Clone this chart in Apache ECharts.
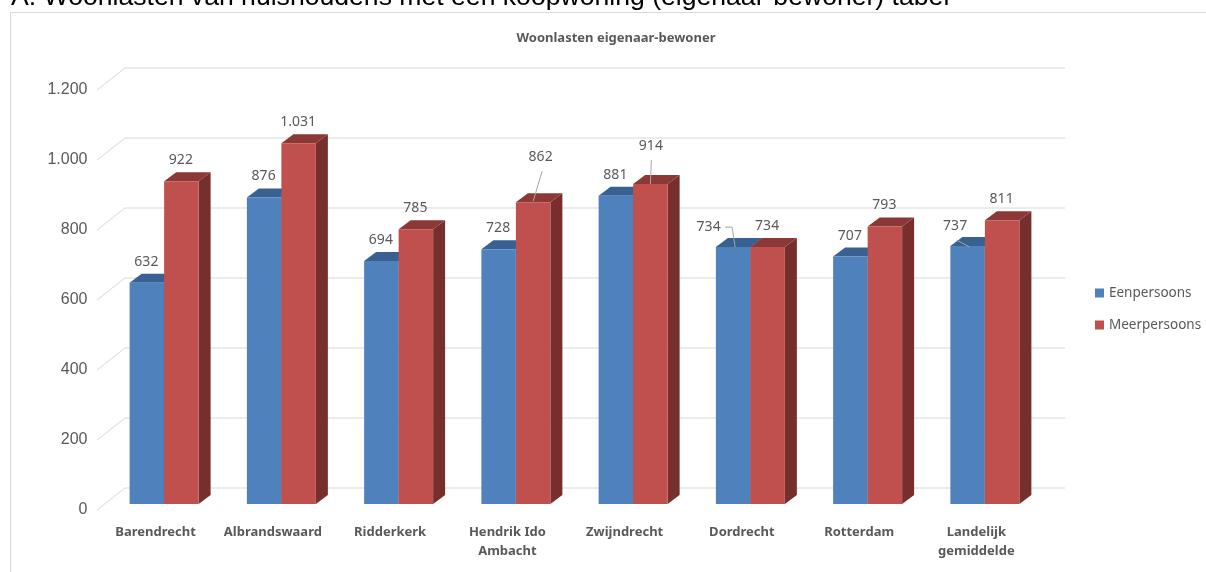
<!DOCTYPE html>
<html>
<head>
<meta charset="utf-8">
<title>Woonlasten eigenaar-bewoner</title>
<script src="https://cdn.jsdelivr.net/npm/echarts@6/dist/echarts.min.js"></script>
<style>
  html, body { margin: 0; padding: 0; background: #fff; }
  #chart { width: 1206px; height: 572px; }
</style>
</head>
<body>
<div id="chart"></div>
<script>
var categories = ["Barendrecht", "Albrandswaard", "Ridderkerk", "Hendrik Ido\nAmbacht", "Zwijndrecht", "Dordrecht", "Rotterdam", "Landelijk\ngemiddelde"];
var eenpersoons = [632, 876, 694, 728, 881, 734, 707, 737];
var meerpersoons = [922, 1031, 785, 862, 914, 734, 793, 811];
var yTicks = [0, 200, 400, 600, 800, 1000, 1200];

// 3d look: the bars stand halfway the floor, walls are pushed back
var FLOOR_X = 28, FLOOR_Y = 22, WALL_EXTRA = 2;
var BAR_SHIFT_X = 8.5, BAR_SHIFT_Y = 6;
var BAR_W = 34.5, DEPTH_X = 12, DEPTH_Y = 9;

// labels that excel moved away from the bar, with their leader line
var moved = {
  "1-3": { dx: 8, dy: -45, leader: [[9, -31], [0, -1]] },
  "1-4": { dx: 1, dy: -38, leader: [[1, -24], [0, 0]] },
  "0-5": { dx: -24, dy: -20, leader: [[-8, -20], [-1, -20], [2, 0]] },
  "0-7": { dx: -12, dy: -20, leader: [[-11, -6], [2, 1]] }
};

function fmt(v) {
  return String(v).replace(/\B(?=(\d{3})+$)/g, ".");
}

function poly(points, color) {
  return { type: "polygon", shape: { points: points }, style: { fill: color } };
}

function barRenderer(seriesIndex, front, top, side) {
  return function (params, api) {
    var idx = api.value(0);
    var val = api.value(1);
    var base = api.coord([idx, 0]);
    var head = api.coord([idx, val]);
    var x0 = base[0] + BAR_SHIFT_X + (seriesIndex === 0 ? -BAR_W : 0);
    var x1 = x0 + BAR_W;
    var y0 = base[1] - BAR_SHIFT_Y;
    var y1 = head[1] - BAR_SHIFT_Y;
    var cx = (x0 + x1) / 2;

    var m = moved[seriesIndex + "-" + idx] || { dx: 0, dy: -21 };
    var children = [
      poly([[x1, y0], [x1 + DEPTH_X, y0 - DEPTH_Y], [x1 + DEPTH_X, y1 - DEPTH_Y], [x1, y1]], side),
      poly([[x0, y1], [x0 + DEPTH_X, y1 - DEPTH_Y], [x1 + DEPTH_X, y1 - DEPTH_Y], [x1, y1]], top),
      poly([[x0, y0], [x1, y0], [x1, y1], [x0, y1]], front)
    ];
    if (m.leader) {
      children.push({
        type: "polyline",
        shape: { points: m.leader.map(function (p) { return [cx + p[0], y1 + p[1]]; }) },
        style: { fill: null, stroke: "#a6a6a6", lineWidth: 1 }
      });
    }
    children.push({
      type: "text",
      style: {
        text: fmt(val),
        x: cx + m.dx - 0.5,
        y: y1 + m.dy,
        align: "center",
        verticalAlign: "middle",
        fill: "#595959",
        font: '14px "Noto Sans"'
      }
    });
    return { type: "group", children: children };
  };
}

function gridRenderer(params, api) {
  var p = api.coord([0, api.value(1)]);
  var left = params.coordSys.x;
  var right = left + params.coordSys.width;
  return {
    type: "polyline",
    shape: { points: [[left, p[1]], [left + FLOOR_X, p[1] - FLOOR_Y], [right + FLOOR_X + WALL_EXTRA, p[1] - FLOOR_Y]] },
    style: { fill: null, stroke: "#d9d9d9", lineWidth: 1 }
  };
}

function pairs(values) {
  return values.map(function (v, i) { return [i, v]; });
}

var chart = echarts.init(document.getElementById("chart"));

var option = {
  backgroundColor: "#fff",
  animation: false,
  title: {
    text: "Woonlasten eigenaar-bewoner",
    left: 616,
    top: 32,
    padding: 0,
    textAlign: "center",
    textStyle: { fontFamily: "Noto Sans", fontSize: 13, fontWeight: "bold", color: "#595959" }
  },
  legend: {
    data: ["Eenpersoons", "Meerpersoons"],
    orient: "vertical",
    left: 1095,
    top: 286,
    padding: 0,
    icon: "rect",
    itemWidth: 9,
    itemHeight: 9,
    itemGap: 18,
    textStyle: { fontFamily: "Noto Sans", fontSize: 13.5, color: "#595959" }
  },
  grid: { left: 97, top: 90, width: 938, height: 420 },
  xAxis: {
    type: "category",
    data: categories,
    axisLine: { show: false },
    axisTick: { show: false },
    axisLabel: {
      margin: 13,
      interval: 0,
      lineHeight: 19,
      fontFamily: "Noto Sans",
      fontSize: 13,
      fontWeight: "bold",
      color: "#595959"
    }
  },
  yAxis: {
    type: "value",
    min: 0,
    max: 1200,
    interval: 200,
    splitLine: { show: false },
    axisLine: { show: false },
    axisTick: { show: false },
    axisLabel: {
      margin: 9.5,
      padding: [0, 0, 4, 0],
      fontFamily: "Liberation Sans",
      fontSize: 16,
      color: "#595959",
      formatter: function (v) { return fmt(v); }
    }
  },
  graphic: [
    {
      type: "text",
      left: 11,
      top: -16,
      style: {
        text: "A. Woonlasten van huishoudens met een koopwoning (eigenaar-bewoner) tabel",
        fill: "#000",
        font: '26.6px "Liberation Sans"'
      }
    },
    {
      type: "polyline",
      shape: { points: [[10.5, 572], [10.5, 12.5], [1206, 12.5]] },
      style: { fill: null, stroke: "#d9d9d9", lineWidth: 1 }
    }
  ],
  series: [
    {
      type: "custom",
      name: "wanden",
      silent: true,
      renderItem: gridRenderer,
      data: pairs(yTicks).map(function (d) { return [0, d[1]]; }),
      encode: { x: 0, y: 1 }
    },
    {
      type: "custom",
      name: "Eenpersoons",
      itemStyle: { color: "#4f81bd" },
      renderItem: barRenderer(0, "#4f81bd", "#386192", "#2f5280"),
      data: pairs(eenpersoons),
      encode: { x: 0, y: 1 }
    },
    {
      type: "custom",
      name: "Meerpersoons",
      itemStyle: { color: "#c0504d" },
      renderItem: barRenderer(1, "#c0504d", "#8c3836", "#772f2d"),
      data: pairs(meerpersoons),
      encode: { x: 0, y: 1 }
    }
  ]
};

chart.setOption(option);
</script>
</body>
</html>
